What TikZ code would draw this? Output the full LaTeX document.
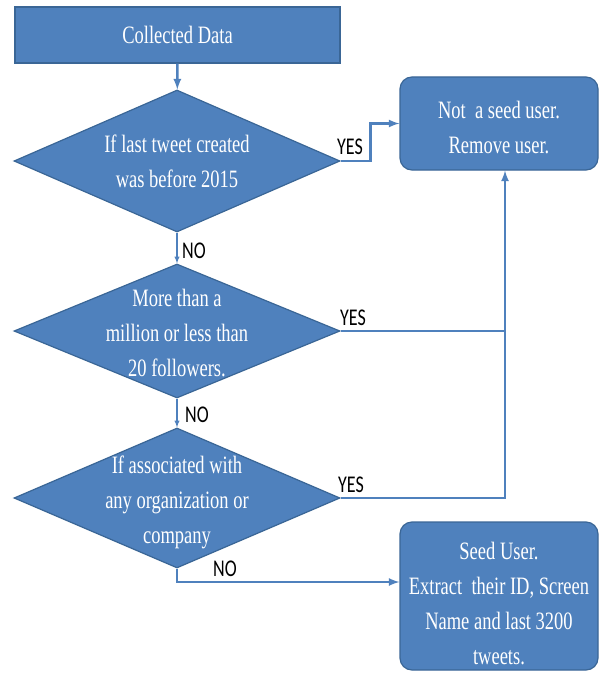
\documentclass[tikz,border=0pt]{standalone}
\usepackage{fontspec}
\setmainfont{Liberation Serif}[FakeStretch=0.74]
\newfontfamily\labelfont{Carlito}[FakeStretch=0.75]
\usepackage{xcolor}
\usepackage{tikz}
\usetikzlibrary{calc}
\usetikzlibrary{shapes,arrows,positioning}
\usetikzlibrary{shapes.geometric}
\definecolor{boxblue}{HTML}{4F81BD}
\definecolor{edgeblue}{HTML}{3A6696}

\begin{document}
\begin{tikzpicture}[x=1pt,y=-1pt,
	box text/.style={text=white,align=center,inner sep=0pt,font=\fontsize{25}{35}\selectfont},
	box/.style={draw=edgeblue,line width=1.2pt,fill=boxblue,box text},
	decide/.style={box,diamond,minimum width=326},
	yesno/.style={font=\labelfont\fontsize{24}{26}\selectfont,inner sep=0pt},
	link/.style={draw=boxblue,line width=2.6pt},
	thin link/.style={draw=boxblue,line width=1.3pt}]
	\useasboundingbox (0,0) rectangle (602,674);
	\node[box,minimum width=325,minimum height=56] (data) at (177.5,35) {Collected Data};
	\node[decide,minimum height=142,label={[box text]center:If last tweet created\\was before 2015}] (lastTweet) at (177,161) {};
	\node[decide,minimum height=134,label={[box text,yshift=-2pt]center:More than a\\million or less than\\20 followers.}] (followers) at (177,331) {};
	\node[decide,minimum height=140,label={[box text,yshift=-4pt]center:If associated with\\any organization or\\company}] (org) at (177,498) {};
	\node[box,rounded corners=12pt,minimum width=198,minimum height=93,
		label={[box text,yshift=-4pt]center:Not\ \ a seed user.\\Remove user.}] (notSeed) at (499,123.5) {};
	\node[box,rounded corners=12pt,minimum width=198,minimum height=148,
		label={[box text,yshift=-7pt]center:Seed User.\\Extract\ \ their ID, Screen\\Name and last 3200\\tweets.}] (seed) at (499,596) {};
	\coordinate (trunk) at ([xshift=6pt]notSeed.south);
	% connectors
	\draw[link,-latex] (data) -- (lastTweet);
	\draw[link,-latex] (lastTweet.east) -- ++(30,0) |- (notSeed.west);
	\draw[thin link,-latex] (lastTweet) -- (followers);
	\draw[thin link,-latex] (followers) -- (org);
	\draw[link] (followers.east) -- (followers.east -| trunk);
	\draw[link,-latex] (org.east) -| (trunk);
	\draw[link,-latex] (org.south) |- ([yshift=14pt]seed.west);
	% labels
	\node[yesno] (yes1) at (350,147) {YES};
	\node[yesno] (no1) at (194,251) {NO};
	\node[yesno] (yes2) at (353,318) {YES};
	\node[yesno] (no2) at (197,415) {NO};
	\node[yesno] (yes3) at (351,485) {YES};
	\node[yesno] (no3) at (225,569) {NO};
\end{tikzpicture}
\end{document}
